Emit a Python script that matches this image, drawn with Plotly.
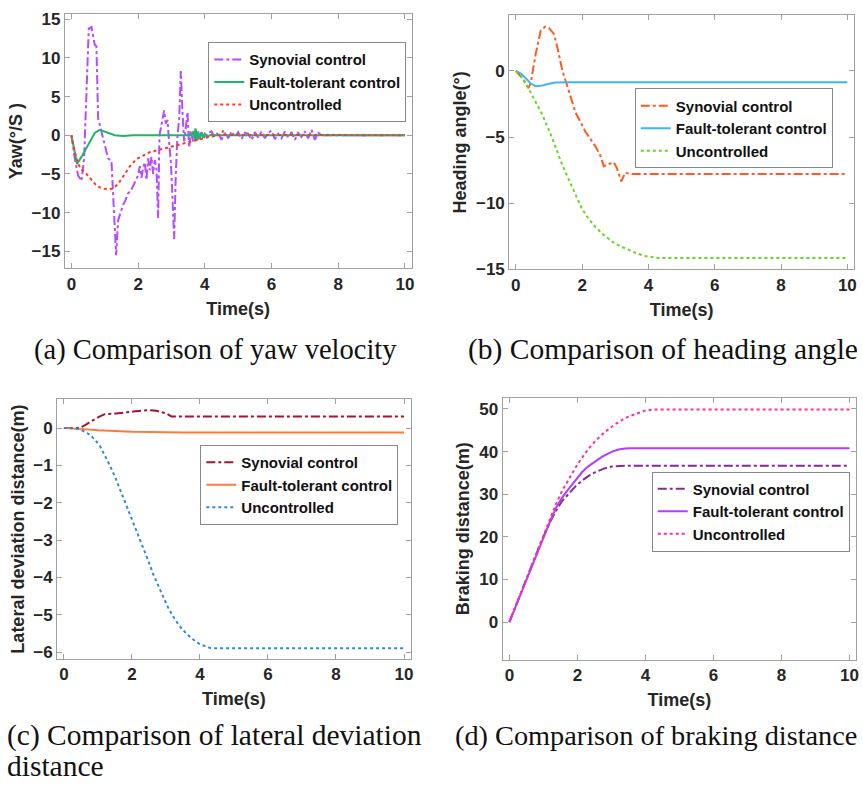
import plotly.graph_objects as go

# ---------------- (a) Yaw velocity ----------------
a_syn_t = [0, 0.1, 0.2, 0.3, 0.38, 0.45, 0.52, 0.6, 0.7, 0.75, 0.8, 0.87, 1.0, 1.1, 1.2,
           1.27, 1.34, 1.4, 1.47, 1.55, 1.62, 1.7, 1.78, 1.85, 1.92, 2.0, 2.05, 2.1, 2.15,
           2.2, 2.25, 2.3, 2.35, 2.4, 2.45, 2.5, 2.55, 2.6, 2.64, 2.7, 2.78, 2.83, 2.88,
           2.93, 2.98, 3.03, 3.08, 3.13, 3.18, 3.23, 3.28, 3.33, 3.38, 3.43, 3.48, 3.53,
           3.58, 3.65, 3.72, 3.8, 3.9, 4.0, 4.1, 4.2, 4.3, 4.4, 4.5, 4.6, 4.7, 4.8, 4.9,
           5.0, 5.1, 5.2, 5.3, 5.4, 5.5, 5.6, 5.7, 5.8, 5.9, 6.0, 6.1, 6.2, 6.3, 6.4, 6.5,
           6.6, 6.7, 6.8, 6.9, 7.0, 7.1, 7.2, 7.3, 7.4, 7.5, 8.0, 9.0, 10.0]
a_syn_y = [0, -3.0, -5.2, -5.9, -3.0, 5.0, 13.8, 14.0, 11.7, 11.5, 2.2, 1.0, -1.5, -3.0, -3.3,
           -9.0, -15.5, -11.0, -10.0, -9.0, -8.4, -7.5, -7.2, -6.5, -6.0, -5.2, -4.0, -5.5, -4.2,
           -3.5, -5.8, -3.0, -4.5, -2.8, -5.0, -3.2, -4.4, -10.7, 0.0, 1.5, 3.2, 1.5, 2.0,
           -1.0, -3.3, -8.0, -13.4, -5.0, 0.0, 2.0, 8.3, 3.0, -0.8, 1.0, 3.0, -1.6,
           0.5, -0.8, 0.7, -0.6, 0.4, -0.5, 0.3, 0.5, -0.3, 0.4, -0.6, 0.3, -0.4, 0.5, -0.2,
           0.4, -0.5, 0.3, 0.2, -0.6, 0.4, -0.3, 0.5, -0.4, 0.3, 0.6, -0.5, 0.2, -0.4, 0.5, -0.3,
           0.4, -0.6, 0.3, -0.2, 0.5, -0.4, 0.7, -0.6, 0.3, 0.0, 0.0, 0.0, 0.0]
a_ftc_t = [0, 0.1, 0.17, 0.3, 0.45, 0.6, 0.7, 0.85, 1.05, 1.3, 1.55, 1.84, 3.6, 3.65, 3.7,
           3.72, 3.76, 3.8, 3.85, 3.9, 3.95, 4.0, 4.1, 4.2, 4.3, 10.0]
a_ftc_y = [0, -2.2, -3.7, -2.8, -1.6, -0.3, 0.3, 0.7, 0.4, 0.0, -0.1, 0.0, 0.0, 0.5, -0.6,
           0.9, -0.7, 0.5, -0.4, 0.3, -0.3, 0.2, -0.15, 0.1, 0.0, 0.0]
a_unc_t = [0, 0.1, 0.2, 0.3, 0.45, 0.6, 0.75, 0.9, 1.1, 1.24, 1.4, 1.54, 1.74, 1.94, 2.14,
           2.34, 2.6, 2.84, 3.1, 3.33, 3.6, 3.83, 4.1, 4.33, 4.5, 4.55, 4.6, 10.0]
a_unc_y = [0, -2.2, -3.7, -4.4, -5.0, -5.8, -6.5, -6.85, -7.0, -6.9, -6.3, -5.4, -4.1, -3.1, -2.6,
           -2.2, -1.9, -1.6, -1.35, -1.1, -0.8, -0.5, -0.25, -0.05, 0.1, 0.6, 0.05, 0.0]

# ---------------- (b) Heading angle ----------------
b_syn_t = [0, 0.2, 0.38, 0.45, 0.6, 0.75, 0.88, 1.0, 1.15, 1.25, 1.4, 1.55, 1.8, 2.1, 2.4,
           2.55, 2.65, 2.8, 2.95, 3.05, 3.18, 3.3, 3.5, 10.0]
b_syn_y = [0, -0.55, -1.3, -0.9, 1.3, 3.05, 3.35, 3.25, 2.8, 1.8, 0.07, -1.16, -3.14, -4.6, -5.7,
           -6.4, -7.2, -7.05, -6.9, -7.35, -8.35, -7.7, -7.8, -7.8]
b_ftc_t = [0, 0.15, 0.3, 0.45, 0.6, 0.8, 1.0, 1.2, 1.6, 10.0]
b_ftc_y = [0, -0.2, -0.55, -0.95, -1.15, -1.1, -0.97, -0.88, -0.85, -0.85]
b_unc_t = [0, 0.2, 0.4, 0.6, 0.8, 1.1, 1.4, 1.7, 2.0, 2.2, 2.4, 2.65, 2.9, 3.15, 3.4, 3.65,
           3.9, 4.1, 4.3, 10.0]
b_unc_y = [0, -0.5, -1.4, -2.3, -3.3, -5.1, -7.1, -8.8, -10.45, -11.2, -11.8, -12.4, -12.9,
           -13.25, -13.55, -13.8, -14.0, -14.1, -14.15, -14.15]

# ---------------- (c) Lateral deviation ----------------
c_syn_t = [0, 0.47, 0.66, 0.86, 1.03, 1.2, 1.54, 2.03, 2.47, 2.72, 3.01, 3.16, 3.4, 10.0]
c_syn_y = [0, 0.0, 0.1, 0.22, 0.3, 0.37, 0.39, 0.44, 0.48, 0.46, 0.39, 0.31, 0.31, 0.31]
c_ftc_t = [0, 0.3, 0.57, 1.0, 1.54, 2.0, 2.52, 3.0, 3.5, 10.0]
c_ftc_y = [0, -0.01, -0.03, -0.06, -0.09, -0.1, -0.11, -0.12, -0.12, -0.12]
c_unc_t = [0, 0.3, 0.47, 0.62, 0.76, 0.9, 1.06, 1.2, 1.35, 1.5, 1.64, 1.84, 2.03, 2.18, 2.33,
           2.48, 2.62, 2.77, 2.91, 3.05, 3.2, 3.4, 3.6, 3.8, 3.99, 4.14, 4.28, 4.4, 10.0]
c_unc_y = [0, -0.01, -0.04, -0.1, -0.18, -0.3, -0.48, -0.72, -1.0, -1.3, -1.62, -2.05, -2.5,
           -2.85, -3.2, -3.55, -3.9, -4.22, -4.5, -4.78, -5.03, -5.3, -5.5, -5.66, -5.78,
           -5.84, -5.88, -5.89, -5.89]

# ---------------- (d) Braking distance ----------------
d_syn_t = [0, 0.49, 0.97, 1.2, 1.36, 1.55, 1.75, 1.95, 2.14, 2.33, 2.53, 2.78, 3.02, 3.25, 3.5, 10.0]
d_syn_y = [0, 9.8, 19.5, 23.5, 26.0, 28.4, 30.2, 31.9, 33.2, 34.3, 35.2, 36.0, 36.5, 36.65, 36.7, 36.7]
d_ftc_t = [0, 0.49, 0.97, 1.2, 1.36, 1.55, 1.75, 1.95, 2.14, 2.33, 2.53, 2.73, 3.02, 3.21, 3.4,
           3.55, 10.0]
d_ftc_y = [0, 9.8, 19.5, 23.7, 26.6, 29.2, 31.3, 33.4, 35.2, 36.6, 37.8, 38.8, 40.0, 40.5, 40.75,
           40.8, 40.8]
d_unc_t = [0, 0.49, 0.97, 1.2, 1.36, 1.55, 1.75, 1.95, 2.14, 2.33, 2.53, 2.78, 3.02, 3.26, 3.5,
           3.75, 3.99, 4.2, 4.38, 10.0]
d_unc_y = [0, 9.8, 19.8, 24.3, 27.5, 30.8, 33.6, 36.3, 38.6, 40.7, 42.5, 44.4, 45.9, 47.2, 48.2,
           49.0, 49.6, 49.85, 49.9, 49.9]

names = ["Synovial control", "Fault-tolerant control", "Uncontrolled"]
x_title = "Time(s)"
y_titles = ["Yaw(°/S )", "Heading angle(°)", "Lateral deviation distance(m)", "Braking distance(m)"]
captions = ["(a) Comparison of yaw velocity", "(b) Comparison of heading angle",
            "(c) Comparison of lateral deviation", "(d) Comparison of braking distance",
            "distance"]

panels = [
    dict(data=[(a_syn_t, a_syn_y), (a_ftc_t, a_ftc_y), (a_unc_t, a_unc_y)],
         colors=["#B54CFF", "#22B46C", "#FF3A1E"],
         xd=[0.0753, 0.4786], yd=[0.6612, 0.9874], yr=[-17.2, 15.7],
         yt=[-15, -10, -5, 0, 5, 10, 15], leg=(209 / 863, 1 - 39 / 794)),
    dict(data=[(b_syn_t, b_syn_y), (b_ftc_t, b_ftc_y), (b_unc_t, b_unc_y)],
         colors=["#FF5A1F", "#3DB6EE", "#66D622"],
         xd=[0.5921, 0.9930], yd=[0.6599, 0.9853], yr=[-15, 4.2],
         yt=[-15, -10, -5, 0], leg=(637 / 863, 1 - 86 / 794)),
    dict(data=[(c_syn_t, c_syn_y), (c_ftc_t, c_ftc_y), (c_unc_t, c_unc_y)],
         colors=["#A2142F", "#FF7A3A", "#2E8BDE"],
         xd=[0.0664, 0.4777], yd=[0.1603, 0.4933], yr=[-6.18, 0.77],
         yt=[-6, -5, -4, -3, -2, -1, 0], leg=(201 / 863, 1 - 449 / 794)),
    dict(data=[(d_syn_t, d_syn_y), (d_ftc_t, d_ftc_y), (d_unc_t, d_unc_y)],
         colors=["#7E2F8E", "#B23CFF", "#FF2E9A"],
         xd=[0.5844, 0.9957], yd=[0.1596, 0.4950], yr=[-8.8, 52.6],
         yt=[0, 10, 20, 30, 40, 50], leg=(654 / 863, 1 - 476 / 794)),
]
dashes = ["dashdot", "solid", "dot"]

fig = go.Figure()
tick_font = dict(family="Liberation Sans", size=17, color="#262626", weight="bold")
title_font = dict(family="Liberation Sans", size=18, color="#262626", weight="bold")

for i, p in enumerate(panels):
    k = "" if i == 0 else str(i + 1)
    legname = "legend" if i == 0 else f"legend{i + 1}"
    for j, (t, y) in enumerate(p["data"]):
        fig.add_trace(go.Scatter(x=t, y=y, mode="lines", name=names[j],
                                 line=dict(color=p["colors"][j], width=2, dash=dashes[j]),
                                 xaxis="x" + k, yaxis="y" + k, legend=legname))
    axcommon = dict(showline=True, linecolor="#a0a0a0", linewidth=1, mirror="ticks",
                    ticks="inside", ticklen=5, tickcolor="#a0a0a0", showgrid=False,
                    zeroline=False, tickfont=tick_font)
    fig.layout["xaxis" + k] = dict(domain=p["xd"], range=[-0.2, 10.2], tickvals=[0, 2, 4, 6, 8, 10],
                                   anchor="y" + k, title=dict(text=x_title, font=title_font, standoff=9),
                                   **axcommon)
    fig.layout["yaxis" + k] = dict(domain=p["yd"], range=p["yr"], tickvals=p["yt"],
                                   anchor="x" + k, title=dict(text=y_titles[i], font=title_font, standoff=4),
                                   **axcommon)
    fig.layout[legname] = dict(x=p["leg"][0], y=p["leg"][1], xanchor="left", yanchor="top",
                               bgcolor="white", bordercolor="#888888", borderwidth=1,
                               font=dict(family="Liberation Sans", size=15, color="#111111", weight="bold"),
                               itemwidth=30, tracegroupgap=0)

cap_sizes = [28.5, 29.5, 29.5, 28.3, 29.5]
cap_pos = [(32, 352), (468, 352), (5, 745), (455, 745), (5, 776)]
for txt, (cx, cy), sz in zip(captions, cap_pos, cap_sizes):
    fig.add_annotation(text=txt, x=cx / 863, y=1 - cy / 794, xref="paper", yref="paper",
                       xanchor="left", yanchor="middle", showarrow=False,
                       font=dict(family="Liberation Serif", size=sz, color="#111111"))

fig.update_layout(width=863, height=794, margin=dict(l=0, r=0, t=0, b=0),
                  paper_bgcolor="white", plot_bgcolor="white", showlegend=True)
fig.write_html("out.html", config={"displayModeBar": False},
               post_script="document.body.style.margin='0';")
